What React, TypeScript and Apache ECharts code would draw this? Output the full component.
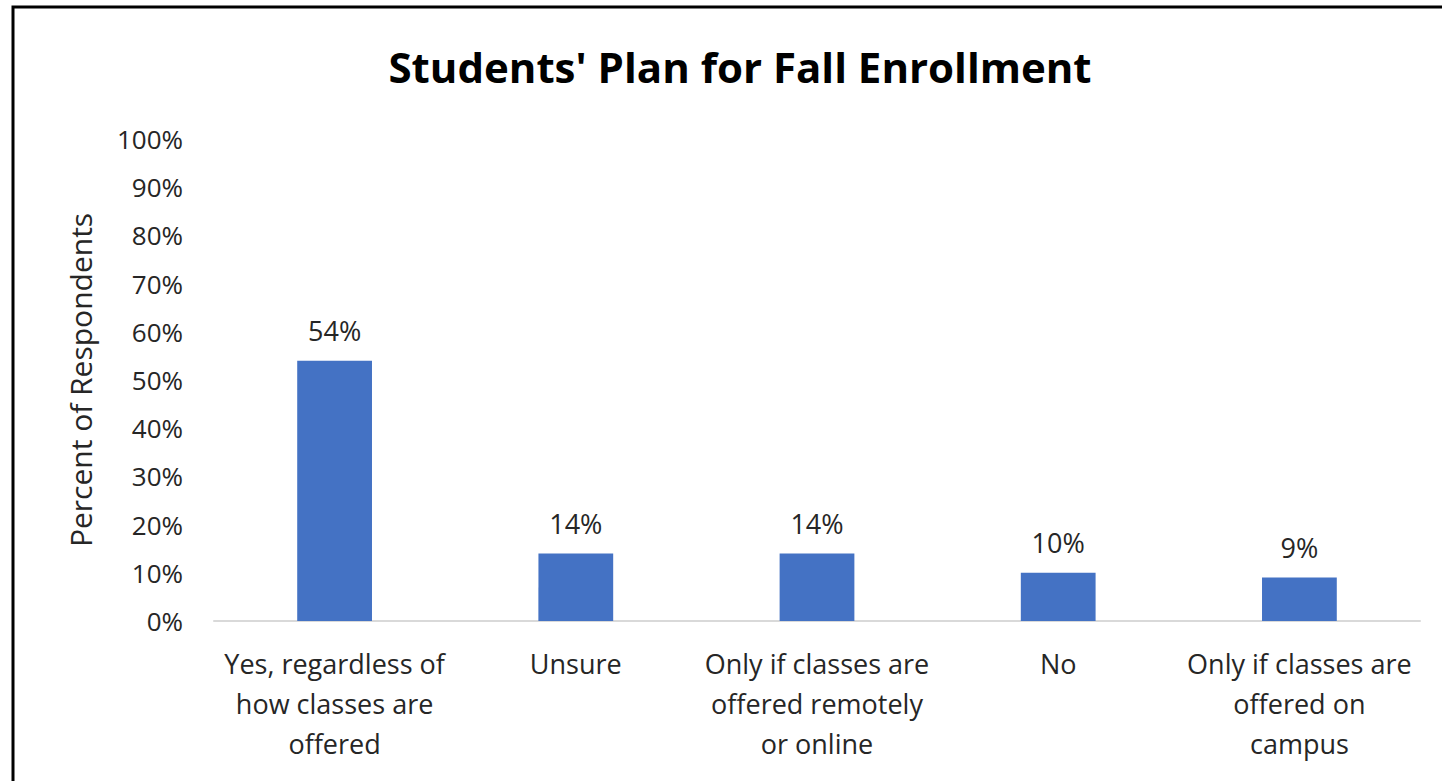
import React, { useEffect, useRef } from "react";
import * as echarts from "echarts";

const categories = [
  "Yes, regardless of\nhow classes are\noffered",
  "Unsure",
  "Only if classes are\noffered remotely\nor online",
  "No",
  "Only if classes are\noffered on\ncampus",
];
const values = [54, 14, 14, 10, 9];
const yTicks = [0, 10, 20, 30, 40, 50, 60, 70, 80, 90, 100];

const FONT = "'Open Sans', 'Noto Sans', sans-serif";

export default function App() {
  const ref = useRef<HTMLDivElement>(null);
  useEffect(() => {
    document.body.style.margin = "0";
    const chart = echarts.init(ref.current!, null, { renderer: "svg" });
    chart.setOption({
      animation: false,
      backgroundColor: "#ffffff",
      textStyle: { fontFamily: FONT },
      title: {
        text: "Students' Plan for Fall Enrollment",
        left: 735,
        top: 40,
        textAlign: "center",
        textStyle: { fontFamily: FONT, fontSize: 42, fontWeight: "bold", color: "#000000" },
      },
      graphic: [
        {
          type: "rect",
          shape: { x: 13, y: 7, width: 1500, height: 900 },
          style: { fill: "none", stroke: "#000000", lineWidth: 3 },
          silent: true,
        },
      ],
      grid: { left: 214, right: 22, top: 139, bottom: 160, containLabel: false },
      xAxis: {
        type: "category",
        data: categories,
        axisLine: { lineStyle: { color: "#d9d9d9", width: 2 } },
        axisTick: { show: false },
        axisLabel: {
          color: "#262626",
          fontSize: 27,
          lineHeight: 40,
          margin: 22,
          interval: 0,
          fontFamily: FONT,
        },
      },
      yAxis: {
        type: "value",
        min: yTicks[0],
        max: yTicks[yTicks.length - 1],
        interval: 10,
        name: "Percent of Respondents",
        nameLocation: "middle",
        nameGap: 119,
        nameTextStyle: { fontSize: 30, color: "#262626", fontFamily: FONT },
        splitLine: { show: false },
        axisLine: { show: false },
        axisTick: { show: false },
        axisLabel: {
          formatter: "{value}%",
          color: "#262626",
          fontSize: 26,
          margin: 31,
          fontFamily: FONT,
        },
      },
      series: [
        {
          type: "bar",
          data: values,
          barWidth: "31%",
          itemStyle: { color: "#4472c4" },
          label: {
            show: true,
            position: "top",
            distance: 17,
            formatter: "{c}%",
            color: "#262626",
            fontSize: 27,
            fontFamily: FONT,
          },
        },
      ],
    });
    return () => chart.dispose();
  }, []);
  return <div ref={ref} style={{ width: 1442, height: 781 }} />;
}
